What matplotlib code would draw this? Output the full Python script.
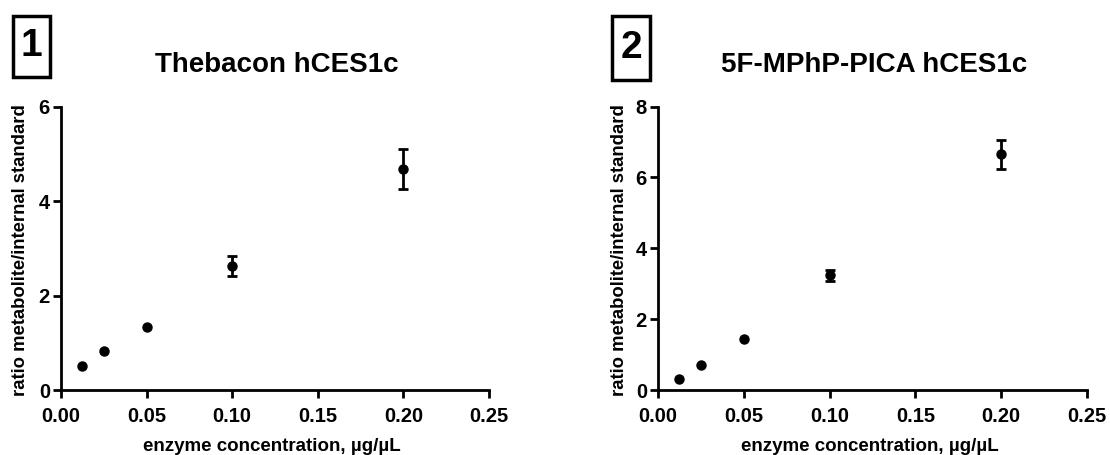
import numpy as np
import matplotlib
matplotlib.use('Agg')
import matplotlib.pyplot as plt
from matplotlib.patches import Rectangle

plt.rcParams['font.family'] = ['Liberation Sans', 'DejaVu Sans']
plt.rcParams['font.weight'] = 'bold'

# data
conc = [0.0125, 0.025, 0.05, 0.10, 0.20]
theb_mean = [0.51, 0.82, 1.33, 2.63, 4.69]
theb_err = [0.0, 0.0, 0.0, 0.22, 0.43]
mphp_mean = [0.30, 0.71, 1.45, 3.24, 6.65]
mphp_err = [0.0, 0.0, 0.0, 0.16, 0.40]

titles = ['Thebacon hCES1c', '5F-MPhP-PICA hCES1c']
numbers = ['1', '2']
ymax = [6, 8]
yticks = [[0, 2, 4, 6], [0, 2, 4, 6, 8]]
xticks = [0.00, 0.05, 0.10, 0.15, 0.20, 0.25]

W, H = 1110, 455
fig = plt.figure(figsize=(W / 100, H / 100), dpi=100)

# axes boxes in pixels (left, top, right, bottom)
boxes = [(61, 107, 489, 390), (658, 106.5, 1087, 390)]
numbox = [(13, 16, 50, 77), (612, 16, 650, 80)]
ylab_x = [21, 619]
means = [theb_mean, mphp_mean]
errs = [theb_err, mphp_err]

for i in range(2):
    l, t, r, b = boxes[i]
    ax = fig.add_axes([l / W, 1 - b / H, (r - l) / W, (b - t) / H])
    x = np.array(conc)
    m = np.array(means[i])
    e = np.array(errs[i])
    has = e > 0
    # points without visible SD, then points with error bars
    ax.plot(x, m, 'o', color='black', markersize=6.5)
    ax.errorbar(x[has], m[has], yerr=e[has], fmt='none', ecolor='black',
                elinewidth=2, capsize=3.9, capthick=2)
    ax.set_xlim(0, 0.25)
    ax.set_ylim(0, ymax[i])
    ax.set_xticks(xticks)
    ax.set_xticklabels(['%.2f' % v for v in xticks])
    ax.set_yticks(yticks[i])
    for s in ['top', 'right']:
        ax.spines[s].set_visible(False)
    for s in ['left', 'bottom']:
        ax.spines[s].set_linewidth(2)
    ax.tick_params(direction='out', length=6, width=2, labelsize=14.5)
    ax.tick_params(axis='x', pad=6)
    ax.tick_params(axis='y', pad=2)
    for lab in ax.get_xticklabels() + ax.get_yticklabels():
        lab.set_fontweight('bold')

    cx = (l + r) / 2
    fig.text((cx - 3) / W, 1 - 451 / H, 'enzyme concentration, µg/µL',
             ha='center', va='baseline', fontsize=13.5, fontweight='bold')
    fig.text(ylab_x[i] / W, 1 - ((t + b) / 2 + 2) / H,
             'ratio metabolite/internal standard', rotation=90,
             ha='center', va='center', fontsize=13.3, fontweight='bold')

    # title
    fig.text((cx + 2) / W, 1 - 72 / H, titles[i], ha='center', va='baseline',
             fontsize=20, fontweight='bold')

    # boxed panel number
    nl, nt, nr, nb = numbox[i]
    fig.patches.append(Rectangle((nl / W, 1 - nb / H), (nr - nl) / W, (nb - nt) / H,
                                 transform=fig.transFigure, fill=False,
                                 edgecolor='black', linewidth=2.5))
    fig.text(((nl + nr) / 2) / W, 1 - ((nt + nb) / 2) / H, numbers[i],
             ha='center', va='center', fontsize=28, fontweight='bold')

fig.savefig('out.png', dpi=100)
